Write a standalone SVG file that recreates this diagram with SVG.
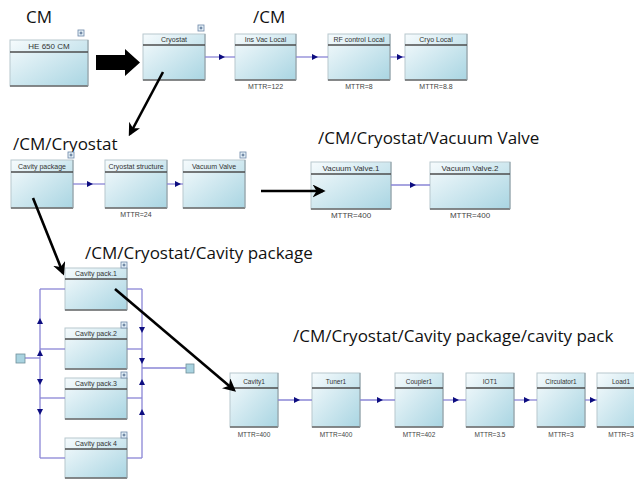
<svg xmlns="http://www.w3.org/2000/svg" width="634" height="479" viewBox="0 0 634 479">
<defs>
<linearGradient id="bg" x1="0" y1="0" x2="1" y2="1">
<stop offset="0" stop-color="#f6fbfd"/>
<stop offset="1" stop-color="#a9d5e2"/>
</linearGradient>
<marker id="ah" viewBox="0 0 10 10" refX="5" refY="5" markerWidth="6" markerHeight="6" markerUnits="userSpaceOnUse" orient="auto">
<path d="M0,0 L10,5 L0,10 Z" fill="#0d0d80"/>
</marker>
<marker id="bh" viewBox="0 0 10 10" refX="8" refY="5" markerWidth="5" markerHeight="5" orient="auto">
<path d="M0,0 L10,5 L0,10 L3,5 Z" fill="#000"/>
</marker>
</defs>
<style>
.box{fill:url(#bg);stroke:#b8c8ce;stroke-width:1}
.bot{stroke:#6a6a6a;stroke-width:1.6}
.rgt{stroke:#8c9ca2;stroke-width:1}
.hdr{stroke:#4d4d4d;stroke-width:1.3}
.lbl{font-family:"Liberation Sans",Arial,sans-serif;font-size:7px;fill:#333;text-anchor:middle}
.mt{font-family:"Liberation Sans",Arial,sans-serif;font-size:7px;fill:#444;text-anchor:middle}
.ttl{font-family:"Open Sans","Liberation Sans",sans-serif;font-size:17px;fill:#111}
.plus rect{fill:#e4f0f8;stroke:#6b86a6;stroke-width:0.8}
.plus path{stroke:#34507a;stroke-width:0.8}
.con{fill:none;stroke:#8a86d6;stroke-width:1.3}
.blk{fill:none;stroke:#000;stroke-width:2.6}
.sq{fill:#a9d3e0;stroke:#6f8f99;stroke-width:0.8}
</style>

<!-- Titles -->
<text class="ttl" x="26" y="23">CM</text>
<text class="ttl" x="253" y="23">/CM</text>
<text class="ttl" x="13" y="150">/CM/Cryostat</text>
<text class="ttl" x="318" y="144">/CM/Cryostat/Vacuum Valve</text>
<text class="ttl" x="85" y="259">/CM/Cryostat/Cavity package</text>
<text class="ttl" x="293" y="342">/CM/Cryostat/Cavity package/cavity pack</text>

<!-- Top row -->
<g id="he650cm">
<rect class="box" x="10" y="40" width="78" height="46"/>
<line class="bot" x1="10" y1="86" x2="88" y2="86"/><line class="rgt" x1="88" y1="40" x2="88" y2="86"/>
<line class="hdr" x1="10" y1="52" x2="88" y2="52"/>
<text class="lbl" x="49" y="49" style="font-size:8px">HE 650 CM</text>
<g class="plus"><rect x="78" y="30" width="6" height="6"/><path d="M79.5,33H82.5M81,31.5V34.5"/></g>
</g>
<g id="cryostat">
<rect class="box" x="143" y="34" width="62" height="46"/>
<line class="bot" x1="143" y1="80" x2="205" y2="80"/><line class="rgt" x1="205" y1="34" x2="205" y2="80"/>
<line class="hdr" x1="143" y1="45" x2="205" y2="45"/>
<text class="lbl" x="174" y="42">Cryostat</text>
<g class="plus"><rect x="198" y="25" width="6" height="6"/><path d="M199.5,28H202.5M201,26.5V29.5"/></g>
</g>
<g id="insvac">
<rect class="box" x="235" y="34" width="61" height="46"/>
<line class="bot" x1="235" y1="80" x2="296" y2="80"/><line class="rgt" x1="296" y1="34" x2="296" y2="80"/>
<line class="hdr" x1="235" y1="45" x2="296" y2="45"/>
<text class="lbl" x="265.5" y="42">Ins Vac Local</text>
<text class="mt" x="265.5" y="89">MTTR=122</text>
</g>
<g id="rfcontrol">
<rect class="box" x="328" y="34" width="62" height="46"/>
<line class="bot" x1="328" y1="80" x2="390" y2="80"/><line class="rgt" x1="390" y1="34" x2="390" y2="80"/>
<line class="hdr" x1="328" y1="45" x2="390" y2="45"/>
<text class="lbl" x="359" y="42">RF control Local</text>
<text class="mt" x="359" y="89">MTTR=8</text>
</g>
<g id="cryolocal">
<rect class="box" x="405" y="34" width="62" height="46"/>
<line class="bot" x1="405" y1="80" x2="467" y2="80"/><line class="rgt" x1="467" y1="34" x2="467" y2="80"/>
<line class="hdr" x1="405" y1="45" x2="467" y2="45"/>
<text class="lbl" x="436" y="42">Cryo Local</text>
<text class="mt" x="436" y="89">MTTR=8.8</text>
</g>

<!-- Second row -->
<g id="cavitypackage">
<rect class="box" x="11" y="160" width="62" height="48"/>
<line class="bot" x1="11" y1="208" x2="73" y2="208"/><line class="rgt" x1="73" y1="160" x2="73" y2="208"/>
<line class="hdr" x1="11" y1="172" x2="73" y2="172"/>
<text class="lbl" x="42" y="169">Cavity package</text>
<g class="plus"><rect x="68" y="152" width="6" height="6"/><path d="M69.5,155H72.5M71,153.5V156.5"/></g>
</g>
<g id="cryostatstructure">
<rect class="box" x="105" y="160" width="62" height="48"/>
<line class="bot" x1="105" y1="208" x2="167" y2="208"/><line class="rgt" x1="167" y1="160" x2="167" y2="208"/>
<line class="hdr" x1="105" y1="172" x2="167" y2="172"/>
<text class="lbl" x="136" y="169">Cryostat structure</text>
<text class="mt" x="136" y="217">MTTR=24</text>
</g>
<g id="vacuumvalve">
<rect class="box" x="183" y="160" width="62" height="48"/>
<line class="bot" x1="183" y1="208" x2="245" y2="208"/><line class="rgt" x1="245" y1="160" x2="245" y2="208"/>
<line class="hdr" x1="183" y1="172" x2="245" y2="172"/>
<text class="lbl" x="214" y="169">Vacuum Valve</text>
<g class="plus"><rect x="240" y="152" width="6" height="6"/><path d="M241.5,155H244.5M243,153.5V156.5"/></g>
</g>
<g id="vv1">
<rect class="box" x="311" y="162" width="80" height="47"/>
<line class="bot" x1="311" y1="209" x2="391" y2="209"/><line class="rgt" x1="391" y1="162" x2="391" y2="209"/>
<line class="hdr" x1="311" y1="174" x2="391" y2="174"/>
<text class="lbl" x="351" y="171" style="font-size:8px">Vacuum Valve.1</text>
<text class="mt" x="351" y="218" style="font-size:8px">MTTR=400</text>
</g>
<g id="vv2">
<rect class="box" x="430" y="162" width="80" height="47"/>
<line class="bot" x1="430" y1="209" x2="510" y2="209"/><line class="rgt" x1="510" y1="162" x2="510" y2="209"/>
<line class="hdr" x1="430" y1="174" x2="510" y2="174"/>
<text class="lbl" x="470" y="171" style="font-size:8px">Vacuum Valve.2</text>
<text class="mt" x="470" y="218" style="font-size:8px">MTTR=400</text>
</g>

<!-- Cavity packs -->
<g id="cp1">
<rect class="box" x="65" y="268" width="62" height="42"/>
<line class="bot" x1="65" y1="310" x2="127" y2="310"/><line class="rgt" x1="127" y1="268" x2="127" y2="310"/>
<line class="hdr" x1="65" y1="279" x2="127" y2="279"/>
<text class="lbl" x="96" y="276">Cavity pack.1</text>
<g class="plus"><rect x="121" y="262" width="6" height="6"/><path d="M122.5,265H125.5M124,263.5V266.5"/></g>
</g>
<g id="cp2">
<rect class="box" x="65" y="328" width="62" height="41"/>
<line class="bot" x1="65" y1="369" x2="127" y2="369"/><line class="rgt" x1="127" y1="328" x2="127" y2="369"/>
<line class="hdr" x1="65" y1="339" x2="127" y2="339"/>
<text class="lbl" x="96" y="336">Cavity pack.2</text>
<g class="plus"><rect x="121" y="322" width="6" height="6"/><path d="M122.5,325H125.5M124,323.5V326.5"/></g>
</g>
<g id="cp3">
<rect class="box" x="65" y="378" width="62" height="41"/>
<line class="bot" x1="65" y1="419" x2="127" y2="419"/><line class="rgt" x1="127" y1="378" x2="127" y2="419"/>
<line class="hdr" x1="65" y1="389" x2="127" y2="389"/>
<text class="lbl" x="96" y="386">Cavity pack.3</text>
<g class="plus"><rect x="121" y="372" width="6" height="6"/><path d="M122.5,375H125.5M124,373.5V376.5"/></g>
</g>
<g id="cp4">
<rect class="box" x="65" y="438" width="62" height="40"/>
<line class="bot" x1="65" y1="478" x2="127" y2="478"/><line class="rgt" x1="127" y1="438" x2="127" y2="478"/>
<line class="hdr" x1="65" y1="449" x2="127" y2="449"/>
<text class="lbl" x="96" y="446">Cavity pack 4</text>
<g class="plus"><rect x="121" y="432" width="6" height="6"/><path d="M122.5,435H125.5M124,433.5V436.5"/></g>
</g>

<!-- Bottom row -->
<g id="cavity1">
<rect class="box" x="230" y="373" width="48" height="54"/>
<line class="bot" x1="230" y1="427" x2="278" y2="427"/><line class="rgt" x1="278" y1="373" x2="278" y2="427"/>
<line class="hdr" x1="230" y1="388" x2="278" y2="388"/>
<text class="lbl" x="254" y="384" style="font-size:6.5px">Cavity1</text>
<text class="mt" x="254" y="437" style="font-size:6.5px">MTTR=400</text>
</g>
<g id="tuner1">
<rect class="box" x="312" y="373" width="48" height="54"/>
<line class="bot" x1="312" y1="427" x2="360" y2="427"/><line class="rgt" x1="360" y1="373" x2="360" y2="427"/>
<line class="hdr" x1="312" y1="388" x2="360" y2="388"/>
<text class="lbl" x="336" y="384" style="font-size:6.5px">Tuner1</text>
<text class="mt" x="336" y="437" style="font-size:6.5px">MTTR=400</text>
</g>
<g id="coupler1">
<rect class="box" x="395" y="373" width="48" height="54"/>
<line class="bot" x1="395" y1="427" x2="443" y2="427"/><line class="rgt" x1="443" y1="373" x2="443" y2="427"/>
<line class="hdr" x1="395" y1="388" x2="443" y2="388"/>
<text class="lbl" x="419" y="384" style="font-size:6.5px">Coupler1</text>
<text class="mt" x="419" y="437" style="font-size:6.5px">MTTR=402</text>
</g>
<g id="iot1">
<rect class="box" x="466" y="373" width="48" height="54"/>
<line class="bot" x1="466" y1="427" x2="514" y2="427"/><line class="rgt" x1="514" y1="373" x2="514" y2="427"/>
<line class="hdr" x1="466" y1="388" x2="514" y2="388"/>
<text class="lbl" x="490" y="384" style="font-size:6.5px">IOT1</text>
<text class="mt" x="490" y="437" style="font-size:6.5px">MTTR=3.5</text>
</g>
<g id="circulator1">
<rect class="box" x="537" y="373" width="48" height="54"/>
<line class="bot" x1="537" y1="427" x2="585" y2="427"/><line class="rgt" x1="585" y1="373" x2="585" y2="427"/>
<line class="hdr" x1="537" y1="388" x2="585" y2="388"/>
<text class="lbl" x="561" y="384" style="font-size:6.5px">Circulator1</text>
<text class="mt" x="561" y="437" style="font-size:6.5px">MTTR=3</text>
</g>
<g id="load1">
<rect class="box" x="597" y="373" width="48" height="54"/>
<line class="bot" x1="597" y1="427" x2="645" y2="427"/>
<line class="hdr" x1="597" y1="388" x2="645" y2="388"/>
<text class="lbl" x="621" y="384" style="font-size:6.5px">Load1</text>
<text class="mt" x="621" y="437" style="font-size:6.5px">MTTR=3</text>
</g>

<!-- Connectors (drawn on top) -->
<g id="connectors">
<path class="con" d="M205,57 L222,57 L235,57" marker-mid="url(#ah)"/>
<path class="con" d="M296,57 L315,57 L328,57" marker-mid="url(#ah)"/>
<path class="con" d="M390,57 L400,57 L405,57" marker-mid="url(#ah)"/>
<path class="con" d="M73,184 L90,184 L105,184" marker-mid="url(#ah)"/>
<path class="con" d="M167,184 L178,184 L183,184" marker-mid="url(#ah)"/>
<path class="con" d="M391,185 L413,185 L430,185" marker-mid="url(#ah)"/>
<path class="con" d="M278,400 L297,400 L312,400" marker-mid="url(#ah)"/>
<path class="con" d="M360,400 L380,400 L395,400" marker-mid="url(#ah)"/>
<path class="con" d="M443,400 L456,400 L466,400" marker-mid="url(#ah)"/>
<path class="con" d="M514,400 L527,400 L537,400" marker-mid="url(#ah)"/>
<path class="con" d="M585,400 L593,400 L597,400" marker-mid="url(#ah)"/>
<!-- parallel block -->
<path class="con" d="M25,358 L40,358"/>
<path class="con" d="M40,289 L65,289"/>
<path class="con" d="M40,349 L65,349"/>
<path class="con" d="M40,458 L65,458"/>
<path class="con" d="M40,398 L65,398"/>
<path class="con" d="M40,358 L40,353 L40,349" marker-mid="url(#ah)"/>
<path class="con" d="M40,349 L40,321 L40,289" marker-mid="url(#ah)"/>
<path class="con" d="M40,358 L40,382 L40,398" marker-mid="url(#ah)"/>
<path class="con" d="M40,398 L40,412 L40,458" marker-mid="url(#ah)"/>
<path class="con" d="M127,289 L142,289"/>
<path class="con" d="M127,458 L142,458"/>
<path class="con" d="M127,349 L142,349"/>
<path class="con" d="M127,398 L142,398"/>
<path class="con" d="M142,368 L186,368"/>
<path class="con" d="M142,289 L142,330 L142,349" marker-mid="url(#ah)"/>
<path class="con" d="M142,349 L142,361 L142,368" marker-mid="url(#ah)"/>
<path class="con" d="M142,398 L142,382 L142,368" marker-mid="url(#ah)"/>
<path class="con" d="M142,458 L142,412 L142,398" marker-mid="url(#ah)"/>
<rect class="sq" x="16" y="354" width="9" height="9"/>
<rect class="sq" x="186" y="364" width="8" height="9"/>
<!-- black arrows -->
<path d="M96,55 L125,55 L125,49 L140,62.5 L125,76 L125,70 L96,70 Z" fill="#000"/>
<path class="blk" d="M163,72 L130,134" marker-end="url(#bh)"/>
<path class="blk" d="M261,191 L323,191" marker-end="url(#bh)"/>
<path class="blk" d="M33,198 L63,273" marker-end="url(#bh)"/>
<path class="blk" d="M115,289 L234,390" marker-end="url(#bh)"/>
</g>
</svg>
